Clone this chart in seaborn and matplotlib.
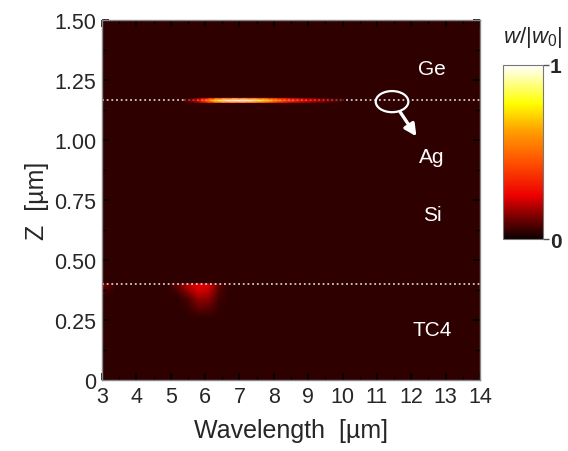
import numpy as np
import matplotlib
matplotlib.use("Agg")
import matplotlib.pyplot as plt
from matplotlib.colors import LinearSegmentedColormap, Normalize
from matplotlib.patches import Ellipse
import seaborn as sns

# Normalised field |w|/|w0| in the multilayer stack
background_level = 0.04

# Field along the Ag layer (z ~ 1.165 um) versus wavelength
line_wavelength = [3.0, 5.4, 5.7, 5.9, 6.1, 6.3, 6.5, 6.8, 7.1, 7.4, 7.7, 8.0, 8.3, 8.7, 9.1, 9.5, 10.0, 14.0]
line_field = [0.05, 0.07, 0.2, 0.38, 0.58, 0.78, 0.92, 1.0, 1.0, 0.93, 0.8, 0.64, 0.48, 0.34, 0.24, 0.15, 0.08, 0.05]
line_z = 1.165
line_halfwidth = 0.0085

# Field inside the TC4 substrate just below the Si/TC4 interface
blob_wavelength = [4.9, 5.2, 5.5, 5.8, 6.1, 6.4, 6.7]
blob_z = [0.26, 0.30, 0.34, 0.37, 0.40]
blob_field = [
    [0.04, 0.04, 0.04, 0.04, 0.04, 0.04, 0.04],
    [0.04, 0.04, 0.05, 0.10, 0.09, 0.05, 0.04],
    [0.04, 0.04, 0.08, 0.16, 0.15, 0.06, 0.04],
    [0.04, 0.07, 0.15, 0.22, 0.20, 0.08, 0.04],
    [0.04, 0.11, 0.20, 0.25, 0.23, 0.10, 0.04],
]

# Small hot spot at the left edge of the interface
edge_wavelength = [3.0, 3.2, 3.4, 3.6]
edge_z = [0.35, 0.38, 0.40]
edge_field = [
    [0.05, 0.04, 0.04, 0.04],
    [0.10, 0.07, 0.04, 0.04],
    [0.13, 0.09, 0.05, 0.04],
]

# Layer interfaces and layer names
interface_z = [1.165, 0.40]
layer_names = ["Ge", "Ag", "Si", "TC4"]
layer_label_pos = [(12.6, 1.30), (12.6, 0.93), (12.6, 0.69), (12.6, 0.21)]

x_ticks = list(range(3, 15))
y_ticks = [0, 0.25, 0.5, 0.75, 1.0, 1.25, 1.5]
y_tick_labels = ["0", "0.25", "0.50", "0.75", "1.00", "1.25", "1.50"]

sns.set_style("ticks")
plt.rcParams["font.family"] = ["Liberation Sans", "DejaVu Sans"]
plt.rcParams["mathtext.fontset"] = "custom"
plt.rcParams["mathtext.rm"] = "Liberation Sans"
plt.rcParams["mathtext.it"] = "Liberation Sans:italic"

cmap = LinearSegmentedColormap.from_list(
    "field",
    [(0.0, (0.05, 0.0, 0.0)), (0.12, (0.45, 0.0, 0.0)), (0.25, (0.93, 0.0, 0.0)),
     (0.45, (1.0, 0.33, 0.0)), (0.62, (1.0, 0.62, 0.0)), (0.78, (1.0, 1.0, 0.0)),
     (1.0, (1.0, 1.0, 1.0))])
norm = Normalize(0, 1)

fig = plt.figure(figsize=(5.68, 4.52), dpi=100)
ax = fig.add_axes([0.1796, 0.157, 0.6655, 0.7965])
ax.set_facecolor(cmap(norm(background_level)))

# Interfaces (dotted)
for zi in interface_z:
    ax.axhline(zi, color="#e8e0e0", lw=1.3, ls=(0, (1.0, 1.6)), alpha=0.9, zorder=1)

# Field along the Ag film: profile in the middle row, background above and below
lw_arr = np.array(line_wavelength)
lf_arr = np.array(line_field)
sel = np.where(lf_arr > 0.1)[0]
i0, i1 = max(sel[0] - 1, 0), min(sel[-1] + 1, len(lw_arr) - 1)
seg_w = lw_arr[i0:i1 + 1]
seg_f = lf_arr[i0:i1 + 1]
edge_row = np.maximum(background_level, seg_f * 0.5)
X = np.vstack([seg_w, seg_w, seg_w])
Y = np.vstack([np.full_like(seg_w, line_z - line_halfwidth),
               np.full_like(seg_w, line_z),
               np.full_like(seg_w, line_z + line_halfwidth)])
C = np.vstack([edge_row, seg_f, edge_row])
ax.pcolormesh(X, Y, C, cmap=cmap, norm=norm, shading="gouraud", zorder=2)
# faint dots remain visible over the weaker part of the line
ax.plot([seg_w[0], seg_w[-1]], [line_z, line_z], color="#f0d8d8", lw=1.2,
        ls=(0, (1.0, 1.6)), alpha=0.35, zorder=2.5)

# Substrate field
BX, BY = np.meshgrid(blob_wavelength, blob_z)
ax.pcolormesh(BX, BY, np.array(blob_field), cmap=cmap, norm=norm, shading="gouraud", zorder=0.5)
EX, EY = np.meshgrid(edge_wavelength, edge_z)
ax.pcolormesh(EX, EY, np.array(edge_field), cmap=cmap, norm=norm, shading="gouraud", zorder=0.5)

# Layer names
for name, (lx, lz) in zip(layer_names, layer_label_pos):
    ax.text(lx, lz, name, color="white", fontsize=15, ha="center", va="center", zorder=3)

# Marker for the Ag film
ax.add_patch(Ellipse((11.44, 1.16), 0.95, 0.088, fill=False, ec="white", lw=1.6, zorder=3))
ax.annotate("", xy=(12.15, 1.015), xytext=(11.67, 1.118),
            arrowprops=dict(arrowstyle="-|>,head_length=0.7,head_width=0.35",
                            color="white", lw=2.4, shrinkA=0, shrinkB=0), zorder=3)

ax.set_xlim(3, 14)
ax.set_ylim(0, 1.5)
ax.set_xticks(x_ticks)
ax.set_yticks(y_ticks)
ax.set_yticklabels(y_tick_labels)
ax.set_xticks(np.arange(3.5, 14, 1.0), minor=True)
ax.set_yticks(np.arange(0.125, 1.5, 0.25), minor=True)
ax.tick_params(which="both", direction="in", top=True, right=True, color="black", zorder=4)
ax.tick_params(which="major", length=5, width=1.2, labelsize=15.5, pad=4)
ax.tick_params(which="minor", length=3, width=1.0)
for sp in ax.spines.values():
    sp.set_color("#888888")
    sp.set_linewidth(1.0)

ax.set_xlabel("Wavelength  [µm]", fontsize=18, labelpad=8)
ax.set_ylabel("Z  [µm]", fontsize=18, labelpad=4)

# Colour bar
cax = fig.add_axes([0.8856, 0.469, 0.0704, 0.385])
sm = matplotlib.cm.ScalarMappable(norm=norm, cmap=cmap)
cb = fig.colorbar(sm, cax=cax, ticks=[0, 1])
cb.ax.set_yticklabels(["0", "1"], fontsize=15, fontweight="bold")
cb.ax.tick_params(length=4, width=1.0, color="#555555", pad=1)
cb.outline.set_edgecolor("#777777")
cb.outline.set_linewidth(0.8)
fig.text(0.937, 0.916, r"$w/|w_0|$", fontsize=16, ha="center", va="center")

fig.savefig("out.png", dpi=100)
